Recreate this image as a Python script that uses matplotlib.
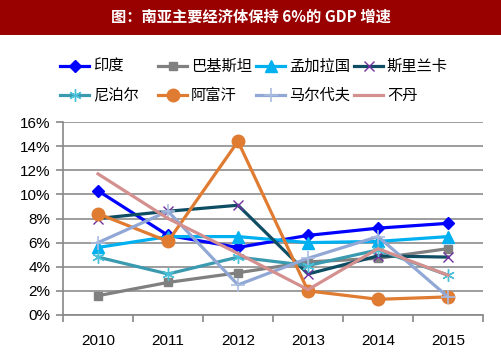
import matplotlib
matplotlib.use("Agg")
import matplotlib.pyplot as plt
from matplotlib.patches import Rectangle
import numpy as np

plt.rcParams['font.family'] = ['Noto Sans CJK SC', 'DejaVu Sans']

years = ["2010", "2011", "2012", "2013", "2014", "2015"]
india      = [10.3, 6.6, 5.6, 6.6, 7.2, 7.6]
pakistan   = [1.6, 2.7, 3.5, 4.4, 4.7, 5.5]
bangladesh = [5.6, 6.5, 6.5, 6.0, 6.1, 6.5]
srilanka   = [8.0, 8.6, 9.1, 3.4, 4.9, 4.8]
nepal      = [4.8, 3.4, 4.8, 4.1, 5.4, 3.3]
afghan     = [8.4, 6.1, 14.4, 2.0, 1.3, 1.5]
maldives   = [6.0, 8.6, 2.5, 4.7, 6.5, 1.5]
bhutan     = [11.7, 8.0, 5.1, 2.1, 5.5, 3.3]

title = "图：南亚主要经济体保持 6%的 GDP 增速"

series = [
    ("印度", india, dict(color="#0000FF", marker="D", ms=6, mfc="#0000FF", mec="#0000FF")),
    ("巴基斯坦", pakistan, dict(color="#808080", marker="s", ms=6, mfc="#808080", mec="#808080")),
    ("孟加拉国", bangladesh, dict(color="#00B0F0", marker="^", ms=8, mfc="#00B0F0", mec="#00B0F0")),
    ("斯里兰卡", srilanka, dict(color="#0E4D64", marker="x", ms=7, mec="#7030A0", mew=1.0)),
    ("尼泊尔", nepal, dict(color="#3A9BB0", marker=(6, 2, 0), ms=9, mec="#4BC0D9", mew=1.0)),
    ("阿富汗", afghan, dict(color="#E07B32", marker="o", ms=9, mfc="#E07B32", mec="#E07B32")),
    ("马尔代夫", maldives, dict(color="#91A8D6", marker="+", ms=10, mec="#A9BCE0", mew=1.2)),
    ("不丹", bhutan, dict(color="#D4908F", marker=None)),
]

fig = plt.figure(figsize=(5.02, 3.58), dpi=100)
fig.patch.set_facecolor("white")

# title bar
fig.add_artist(Rectangle((0, 1 - 35 / 358), 1, 35 / 358, transform=fig.transFigure,
                         facecolor="#990000", edgecolor="none"))
fig.text(0.5, 1 - 17 / 358, title, color="white", fontsize=11, fontweight="bold",
         ha="center", va="center")

ax = fig.add_axes([63 / 502, 1 - 315 / 358, 420 / 502, 193 / 358])
x = np.arange(len(years))
handles = []
for name, vals, st in series:
    h, = ax.plot(x, vals, lw=2.3, label=name, **st)
    handles.append(h)

ax.set_xlim(-0.5, len(years) - 0.5)
ax.set_ylim(0, 16)
ax.set_yticks(np.arange(0, 17, 2))
ax.set_yticklabels([f"{v}%" for v in range(0, 17, 2)], family="Liberation Sans", fontsize=11)
ax.set_xticks(x)
ax.set_xticklabels(years, family="Liberation Sans", fontsize=11)
ax.set_xticks(np.arange(-0.5, len(years)), minor=True)
ax.tick_params(axis="x", which="major", length=0, pad=14)
ax.tick_params(axis="x", which="minor", length=5, color="#888888", width=1.2)
ax.tick_params(axis="y", length=5, color="#888888", width=1.2, pad=4)
ax.grid(axis="y", color="#8c8c8c", lw=1.2)
ax.set_axisbelow(True)
for s in ["top", "right"]:
    ax.spines[s].set_visible(False)
ax.spines["left"].set_color("#888888")
ax.spines["left"].set_linewidth(1.2)
ax.spines["bottom"].set_color("#888888")
ax.spines["bottom"].set_linewidth(1.2)

# legend: four columns, two rows
col_x = [60, 158, 256, 354]
for ci, cx in enumerate(col_x):
    hs = [handles[ci], handles[ci + 4]]
    fig.legend(handles=hs, loc="upper left", bbox_to_anchor=(cx / 502, 1 - 58 / 358),
               frameon=False, fontsize=11, handlelength=1.9, handletextpad=0.25,
               labelspacing=0.8, borderaxespad=0, borderpad=0)

fig.savefig("out.png", dpi=100)
